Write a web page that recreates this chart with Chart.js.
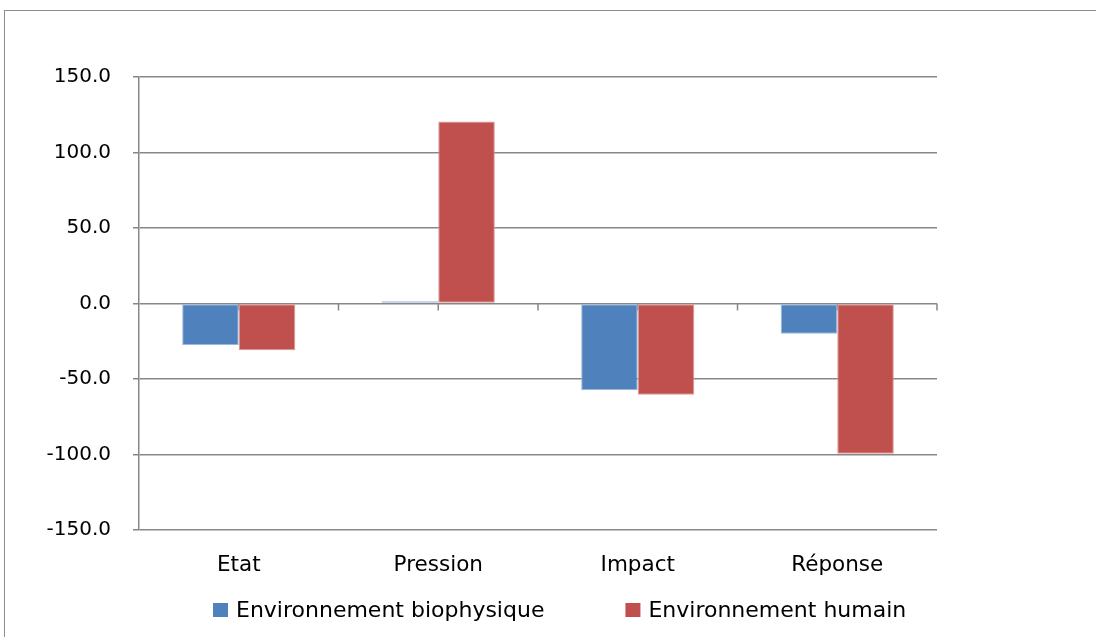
<!DOCTYPE html>
<html lang="fr">
<head>
  <meta charset="UTF-8" />
  <title>Etat / Pression / Impact / Réponse</title>
  <script src="https://cdn.jsdelivr.net/npm/chart.js"></script>
  <style>
    body {
      margin: 0;
      background: #fff;
      overflow: hidden;
    }
    .wrap {
      position: relative;
      width: 1096px;
      height: 637px;
    }
    /* cadre gris du graphique (coupé à droite et en bas) */
    .frame {
      position: absolute;
      left: 4px;
      top: 10px;
      width: 1200px;
      height: 700px;
      border: 1px solid #8c8c8c;
      box-sizing: border-box;
    }
    canvas {
      position: absolute;
      left: 0;
      top: 0;
    }
  </style>
</head>
<body>
  <div class="wrap">
    <div class="frame"></div>
    <canvas id="chart" width="1096" height="637"></canvas>
  </div>

  <script>
    const categories = ["Etat", "Pression", "Impact", "Réponse"];
    const seriesNames = ["Environnement biophysique", "Environnement humain"];
    const biophysique = [-27.5, 1.5, -57.5, -20];
    const humain = [-31, 120.5, -60.5, -99.5];
    const yTicks = [-150, -100, -50, 0, 50, 100, 150];

    const BLUE = "#4f81bd";
    const RED = "#c0504d";
    const GRID = "#878787";
    const FONT = "'DejaVu Sans', Verdana, sans-serif";

    // petits traits de graduation sur l'axe des catégories (ligne du zéro)
    const categoryTicks = {
      id: "categoryTicks",
      beforeDatasetsDraw(chart) {
        const x = chart.scales.x, y = chart.scales.y;
        const ctx = chart.ctx;
        const y0 = y.getPixelForValue(0);
        ctx.save();
        ctx.strokeStyle = GRID;
        ctx.lineWidth = 1.5;
        ctx.beginPath();
        for (let i = 0; i < categories.length; i++) {
          const px = [x.getPixelForValue(i), x.getPixelForValue(i + 0.5)];
          px.forEach(p => {
            ctx.moveTo(p, y0);
            ctx.lineTo(p, y0 + 7);
          });
        }
        ctx.stroke();
        ctx.restore();
      }
    };

    // légende dessinée à la main pour coller au placement d'origine
    const bottomLegend = {
      id: "bottomLegend",
      afterDraw(chart) {
        const ctx = chart.ctx;
        const startX = 213, cy = 610, box = 15, gap = 8, itemGap = 81;
        ctx.save();
        ctx.font = "22px " + FONT;
        ctx.textBaseline = "middle";
        ctx.fillStyle = "#000";
        let x = startX;
        chart.data.datasets.forEach(ds => {
          ctx.fillStyle = ds.backgroundColor;
          ctx.fillRect(x, cy - 7, box, 14);
          ctx.fillStyle = "#000";
          ctx.fillText(ds.label, x + box + gap, cy + 1);
          x += box + gap + ctx.measureText(ds.label).width + itemGap;
        });
        ctx.restore();
      }
    };

    new Chart(document.getElementById("chart"), {
      type: "bar",
      data: {
        labels: categories,
        datasets: [
          {
            label: seriesNames[0],
            data: biophysique,
            backgroundColor: BLUE,
            borderColor: "#9db6da",
            borderWidth: 1,
            borderSkipped: false
          },
          {
            label: seriesNames[1],
            data: humain,
            backgroundColor: RED,
            borderColor: "#dd9896",
            borderWidth: 1,
            borderSkipped: false
          }
        ]
      },
      options: {
        responsive: false,
        animation: false,
        layout: { padding: { top: 77, right: 159, left: 0, bottom: 0 } },
        datasets: {
          bar: { barPercentage: 1, categoryPercentage: 0.567 }
        },
        plugins: {
          legend: { display: false },
          tooltip: { enabled: false }
        },
        scales: {
          x: {
            grid: { display: false, drawTicks: false },
            border: { display: false },
            ticks: {
              color: "#000",
              padding: 23,
              font: { family: FONT, size: 21.5 }
            },
            afterFit(scale) { scale.height = 107; }
          },
          y: {
            min: -150,
            max: 150,
            afterBuildTicks(scale) {
              scale.ticks = yTicks.map(v => ({ value: v }));
            },
            grid: {
              color: GRID,
              lineWidth: 1.5,
              tickLength: 6,
              tickColor: GRID
            },
            border: { display: true, color: GRID, width: 1.5 },
            ticks: {
              color: "#000",
              padding: 22,
              font: { family: FONT, size: 20 },
              callback: v => v.toFixed(1)
            },
            afterFit(scale) { scale.width = 139; }
          }
        }
      },
      plugins: [categoryTicks, bottomLegend]
    });
  </script>
</body>
</html>
